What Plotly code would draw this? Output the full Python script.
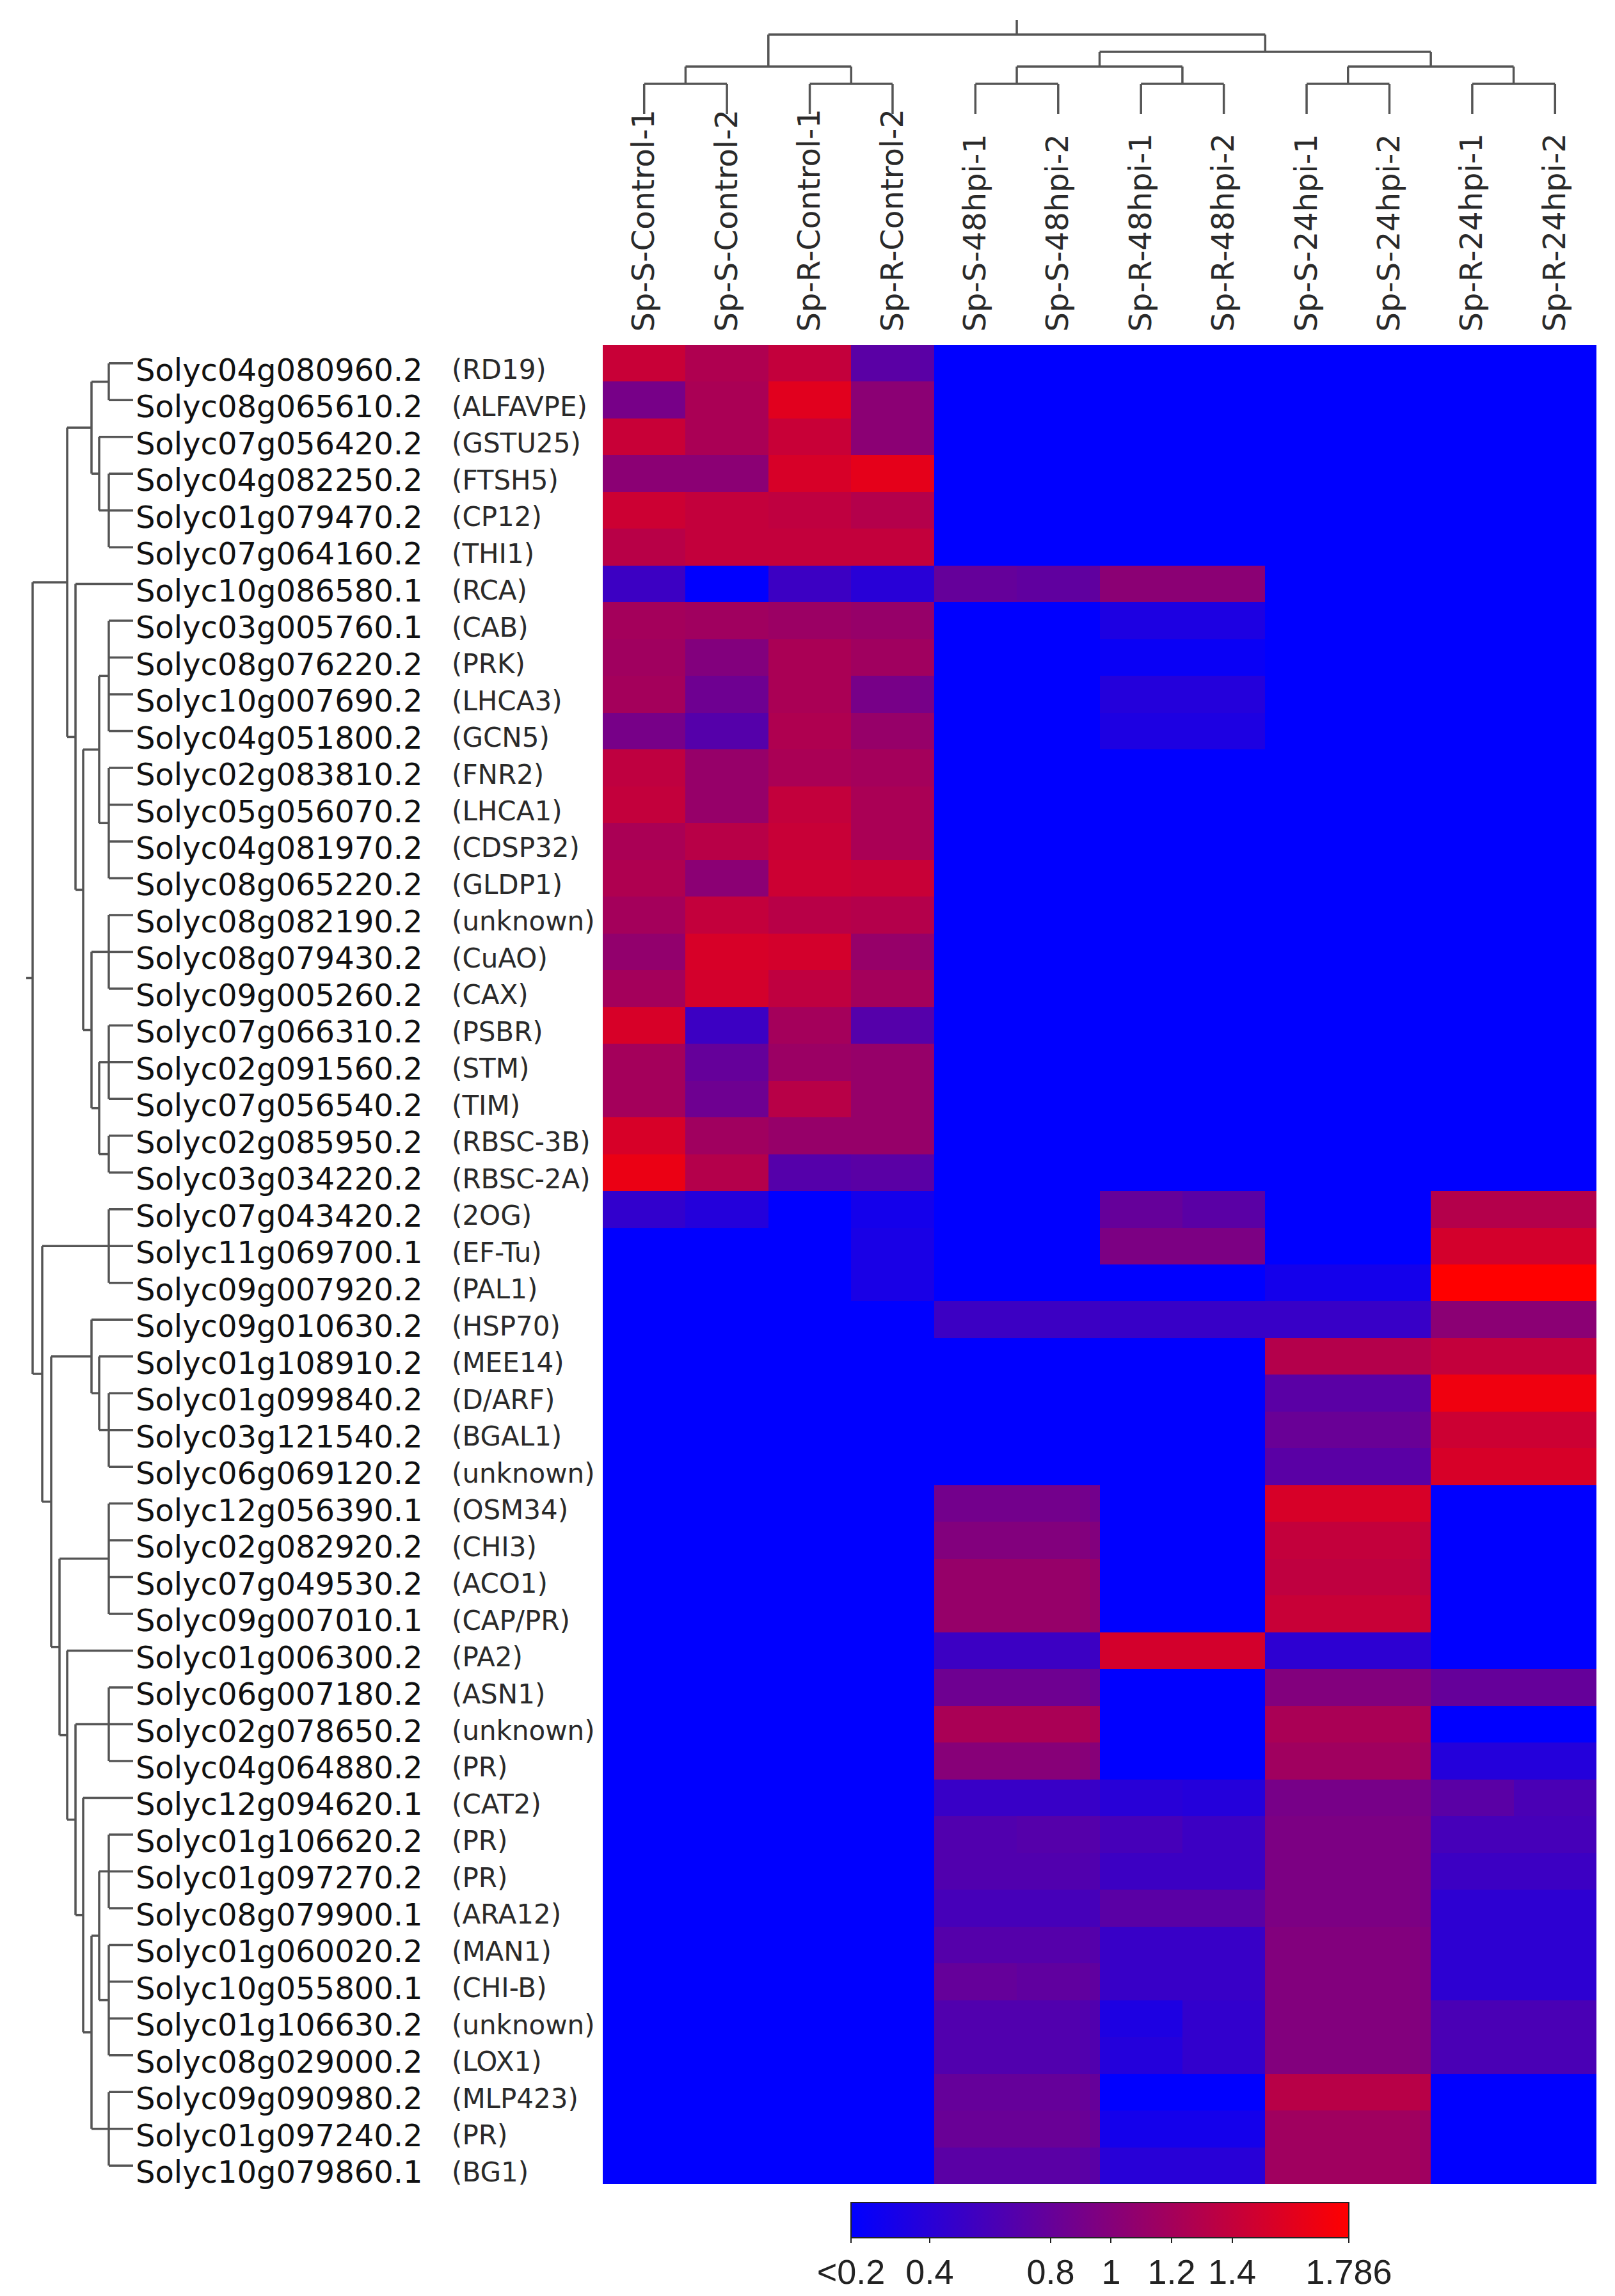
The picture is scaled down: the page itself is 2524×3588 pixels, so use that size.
import plotly.graph_objects as go

# samples (columns) and genes (rows), top to bottom as in the heatmap
samples = ["Sp-S-Control-1", "Sp-S-Control-2", "Sp-R-Control-1", "Sp-R-Control-2",
           "Sp-S-48hpi-1", "Sp-S-48hpi-2", "Sp-R-48hpi-1", "Sp-R-48hpi-2",
           "Sp-S-24hpi-1", "Sp-S-24hpi-2", "Sp-R-24hpi-1", "Sp-R-24hpi-2"]

gene_ids = ["Solyc04g080960.2", "Solyc08g065610.2", "Solyc07g056420.2", "Solyc04g082250.2",
            "Solyc01g079470.2", "Solyc07g064160.2", "Solyc10g086580.1", "Solyc03g005760.1",
            "Solyc08g076220.2", "Solyc10g007690.2", "Solyc04g051800.2", "Solyc02g083810.2",
            "Solyc05g056070.2", "Solyc04g081970.2", "Solyc08g065220.2", "Solyc08g082190.2",
            "Solyc08g079430.2", "Solyc09g005260.2", "Solyc07g066310.2", "Solyc02g091560.2",
            "Solyc07g056540.2", "Solyc02g085950.2", "Solyc03g034220.2", "Solyc07g043420.2",
            "Solyc11g069700.1", "Solyc09g007920.2", "Solyc09g010630.2", "Solyc01g108910.2",
            "Solyc01g099840.2", "Solyc03g121540.2", "Solyc06g069120.2", "Solyc12g056390.1",
            "Solyc02g082920.2", "Solyc07g049530.2", "Solyc09g007010.1", "Solyc01g006300.2",
            "Solyc06g007180.2", "Solyc02g078650.2", "Solyc04g064880.2", "Solyc12g094620.1",
            "Solyc01g106620.2", "Solyc01g097270.2", "Solyc08g079900.1", "Solyc01g060020.2",
            "Solyc10g055800.1", "Solyc01g106630.2", "Solyc08g029000.2", "Solyc09g090980.2",
            "Solyc01g097240.2", "Solyc10g079860.1"]

gene_names = ["(RD19)", "(ALFAVPE)", "(GSTU25)", "(FTSH5)", "(CP12)", "(THI1)", "(RCA)", "(CAB)",
              "(PRK)", "(LHCA3)", "(GCN5)", "(FNR2)", "(LHCA1)", "(CDSP32)", "(GLDP1)", "(unknown)",
              "(CuAO)", "(CAX)", "(PSBR)", "(STM)", "(TIM)", "(RBSC-3B)", "(RBSC-2A)", "(2OG)",
              "(EF-Tu)", "(PAL1)", "(HSP70)", "(MEE14)", "(D/ARF)", "(BGAL1)", "(unknown)", "(OSM34)",
              "(CHI3)", "(ACO1)", "(CAP/PR)", "(PA2)", "(ASN1)", "(unknown)", "(PR)", "(CAT2)",
              "(PR)", "(PR)", "(ARA12)", "(MAN1)", "(CHI-B)", "(unknown)", "(LOX1)", "(MLP423)",
              "(PR)", "(BG1)"]

# relative expression, one row per gene, one value per sample
expr = [
    [1.43, 1.27, 1.40, 0.72, 0.1, 0.1, 0.1, 0.1, 0.1, 0.1, 0.1, 0.1],
    [0.91, 1.24, 1.59, 1.04, 0.1, 0.1, 0.1, 0.1, 0.1, 0.1, 0.1, 0.1],
    [1.43, 1.24, 1.43, 1.04, 0.1, 0.1, 0.1, 0.1, 0.1, 0.1, 0.1, 0.1],
    [1.04, 1.04, 1.53, 1.62, 0.1, 0.1, 0.1, 0.1, 0.1, 0.1, 0.1, 0.1],
    [1.46, 1.40, 1.37, 1.30, 0.1, 0.1, 0.1, 0.1, 0.1, 0.1, 0.1, 0.1],
    [1.33, 1.40, 1.40, 1.40, 0.1, 0.1, 0.1, 0.1, 0.1, 0.1, 0.1, 0.1],
    [0.53, 0.10, 0.53, 0.40, 0.79, 0.76, 1.04, 1.04, 0.1, 0.1, 0.1, 0.1],
    [1.20, 1.17, 1.14, 1.11, 0.1, 0.1, 0.33, 0.33, 0.1, 0.1, 0.1, 0.1],
    [1.17, 0.98, 1.24, 1.17, 0.1, 0.1, 0.20, 0.20, 0.1, 0.1, 0.1, 0.1],
    [1.20, 0.85, 1.24, 0.91, 0.1, 0.1, 0.37, 0.37, 0.1, 0.1, 0.1, 0.1],
    [0.91, 0.69, 1.27, 1.11, 0.1, 0.1, 0.33, 0.33, 0.1, 0.1, 0.1, 0.1],
    [1.37, 1.11, 1.24, 1.20, 0.1, 0.1, 0.1, 0.1, 0.1, 0.1, 0.1, 0.1],
    [1.40, 1.11, 1.40, 1.24, 0.1, 0.1, 0.1, 0.1, 0.1, 0.1, 0.1, 0.1],
    [1.24, 1.33, 1.43, 1.24, 0.1, 0.1, 0.1, 0.1, 0.1, 0.1, 0.1, 0.1],
    [1.27, 1.04, 1.46, 1.43, 0.1, 0.1, 0.1, 0.1, 0.1, 0.1, 0.1, 0.1],
    [1.20, 1.40, 1.33, 1.30, 0.1, 0.1, 0.1, 0.1, 0.1, 0.1, 0.1, 0.1],
    [1.08, 1.53, 1.50, 1.11, 0.1, 0.1, 0.1, 0.1, 0.1, 0.1, 0.1, 0.1],
    [1.20, 1.50, 1.37, 1.20, 0.1, 0.1, 0.1, 0.1, 0.1, 0.1, 0.1, 0.1],
    [1.53, 0.53, 1.20, 0.69, 0.1, 0.1, 0.1, 0.1, 0.1, 0.1, 0.1, 0.1],
    [1.20, 0.79, 1.14, 1.11, 0.1, 0.1, 0.1, 0.1, 0.1, 0.1, 0.1, 0.1],
    [1.20, 0.85, 1.33, 1.11, 0.1, 0.1, 0.1, 0.1, 0.1, 0.1, 0.1, 0.1],
    [1.53, 1.17, 1.11, 1.11, 0.1, 0.1, 0.1, 0.1, 0.1, 0.1, 0.1, 0.1],
    [1.66, 1.30, 0.69, 0.72, 0.1, 0.1, 0.1, 0.1, 0.1, 0.1, 0.1, 0.1],
    [0.46, 0.37, 0.10, 0.27, 0.1, 0.1, 0.79, 0.72, 0.1, 0.1, 1.30, 1.30],
    [0.10, 0.10, 0.10, 0.30, 0.1, 0.1, 0.94, 0.94, 0.1, 0.1, 1.50, 1.50],
    [0.10, 0.10, 0.10, 0.30, 0.1, 0.1, 0.10, 0.10, 0.27, 0.27, 1.786, 1.786],
    [0.1, 0.1, 0.1, 0.1, 0.53, 0.53, 0.50, 0.50, 0.50, 0.50, 1.04, 1.04],
    [0.1, 0.1, 0.1, 0.1, 0.1, 0.1, 0.1, 0.1, 1.30, 1.30, 1.40, 1.40],
    [0.1, 0.1, 0.1, 0.1, 0.1, 0.1, 0.1, 0.1, 0.72, 0.72, 1.69, 1.69],
    [0.1, 0.1, 0.1, 0.1, 0.1, 0.1, 0.1, 0.1, 0.82, 0.82, 1.46, 1.46],
    [0.1, 0.1, 0.1, 0.1, 0.1, 0.1, 0.1, 0.1, 0.72, 0.72, 1.53, 1.53],
    [0.1, 0.1, 0.1, 0.1, 0.88, 0.88, 0.1, 0.1, 1.53, 1.53, 0.1, 0.1],
    [0.1, 0.1, 0.1, 0.1, 0.98, 0.98, 0.1, 0.1, 1.40, 1.40, 0.1, 0.1],
    [0.1, 0.1, 0.1, 0.1, 1.11, 1.11, 0.1, 0.1, 1.37, 1.37, 0.1, 0.1],
    [0.1, 0.1, 0.1, 0.1, 1.11, 1.11, 0.1, 0.1, 1.43, 1.43, 0.1, 0.1],
    [0.1, 0.1, 0.1, 0.1, 0.53, 0.53, 1.50, 1.50, 0.43, 0.43, 0.1, 0.1],
    [0.1, 0.1, 0.1, 0.1, 0.85, 0.85, 0.1, 0.1, 0.98, 0.98, 0.79, 0.79],
    [0.1, 0.1, 0.1, 0.1, 1.24, 1.24, 0.1, 0.1, 1.24, 1.24, 0.1, 0.1],
    [0.1, 0.1, 0.1, 0.1, 1.01, 1.01, 0.1, 0.1, 1.17, 1.17, 0.37, 0.37],
    [0.1, 0.1, 0.1, 0.1, 0.50, 0.50, 0.40, 0.37, 0.91, 0.91, 0.72, 0.62],
    [0.1, 0.1, 0.1, 0.1, 0.66, 0.69, 0.59, 0.53, 0.94, 0.94, 0.59, 0.59],
    [0.1, 0.1, 0.1, 0.1, 0.66, 0.66, 0.53, 0.53, 0.94, 0.94, 0.53, 0.53],
    [0.1, 0.1, 0.1, 0.1, 0.59, 0.59, 0.72, 0.72, 0.94, 0.94, 0.43, 0.43],
    [0.1, 0.1, 0.1, 0.1, 0.69, 0.69, 0.50, 0.50, 0.98, 0.98, 0.43, 0.43],
    [0.1, 0.1, 0.1, 0.1, 0.79, 0.76, 0.50, 0.50, 0.98, 0.98, 0.43, 0.43],
    [0.1, 0.1, 0.1, 0.1, 0.66, 0.66, 0.33, 0.46, 0.98, 0.98, 0.62, 0.62],
    [0.1, 0.1, 0.1, 0.1, 0.66, 0.66, 0.37, 0.46, 0.98, 0.98, 0.62, 0.62],
    [0.1, 0.1, 0.1, 0.1, 0.79, 0.79, 0.1, 0.1, 1.33, 1.33, 0.1, 0.1],
    [0.1, 0.1, 0.1, 0.1, 0.82, 0.82, 0.27, 0.27, 1.17, 1.17, 0.1, 0.1],
    [0.1, 0.1, 0.1, 0.1, 0.72, 0.72, 0.40, 0.40, 1.17, 1.17, 0.1, 0.1],
]

# colour scale ticks
cbar_vals = [0.14, 0.4, 0.8, 1.0, 1.2, 1.4, 1.786]
cbar_text = ["<0.2", "0.4", "0.8", "1", "1.2", "1.4", "1.786"]

# clustering: (children, height); leaves are 0..n-1, merge i gets id n+i
row_merges = [
    ([0, 1], 38), ([3, 4, 5], 38), ([2, 51], 53), ([50, 52], 65),
    ([7, 8, 9, 10], 38), ([11, 12, 13, 14], 38), ([54, 55], 53),
    ([15, 16, 17], 38), ([18, 19, 20], 38), ([21, 22], 38), ([58, 59], 53),
    ([57, 60], 65), ([56, 61], 78), ([6, 62], 90), ([53, 63], 103),
    ([23, 24, 25], 38), ([28, 29, 30], 38), ([27, 66], 53), ([26, 67], 65),
    ([31, 32, 33, 34], 38), ([36, 37, 38], 38), ([40, 41, 42], 38),
    ([43, 44, 45, 46], 38), ([71, 72], 53), ([47, 48, 49], 38), ([73, 74], 65),
    ([39, 75], 78), ([70, 76], 90), ([35, 77], 103), ([69, 78], 115),
    ([68, 79], 128), ([65, 80], 142), ([64, 81], 157),
]
row_root_stem = 167

col_merges = [
    ([0, 1], 47), ([2, 3], 47), ([4, 5], 47), ([6, 7], 47), ([8, 9], 47), ([10, 11], 47),
    ([12, 13], 74), ([14, 15], 74), ([16, 17], 74), ([19, 20], 97), ([18, 21], 124),
]
col_root_stem = 147


def dendro(merges, n, stem):
    pos = list(range(n))
    hgt = [0] * n
    p, h = [], []
    for children, height in merges:
        cp = [pos[c] for c in children]
        for c in children:
            p += [pos[c], pos[c], None]
            h += [hgt[c], height, None]
        p += [min(cp), max(cp), None]
        h += [height, height, None]
        pos.append((min(cp) + max(cp)) / 2)
        hgt.append(height)
    p += [pos[-1], pos[-1], None]
    h += [hgt[-1], stem, None]
    return p, h


W, H = 2524, 3588
fx = lambda px: px / W
fy = lambda py: 1 - py / H

n_rows, n_cols = len(gene_ids), len(samples)
line = dict(color="#555555", width=3.5)

fig = go.Figure()

fig.add_trace(go.Heatmap(
    z=expr, x=list(range(n_cols)), y=list(range(n_rows)),
    colorscale=[[0, "#0000ff"], [1, "#ff0000"]], zmin=0.14, zmax=1.786,
    colorbar=dict(orientation="h", x=fx(1711), xanchor="center", y=fy(3434), yanchor="top",
                  len=778 / W, lenmode="fraction", thickness=55, xpad=0, ypad=0,
                  outlinewidth=2, outlinecolor="#222",
                  tickvals=cbar_vals, ticktext=cbar_text, ticks="outside", ticklen=7,
                  tickwidth=2, tickcolor="#222",
                  tickfont=dict(family="Liberation Sans", size=54, color="#222")),
))

rp, rh = dendro(row_merges, n_rows, row_root_stem)
fig.add_trace(go.Scatter(x=rh, y=rp, xaxis="x2", yaxis="y", mode="lines", line=line,
                         hoverinfo="skip", showlegend=False))

cp, ch = dendro(col_merges, n_cols, col_root_stem)
fig.add_trace(go.Scatter(x=cp, y=ch, xaxis="x", yaxis="y2", mode="lines", line=line,
                         hoverinfo="skip", showlegend=False))

annotations = []
for i in range(n_rows):
    annotations.append(dict(x=fx(202), xref="paper", y=i, yref="y", text=gene_ids[i],
                            xanchor="left", yanchor="middle", yshift=-10, showarrow=False,
                            font=dict(family="DejaVu Sans", size=48, color="#111")))
    annotations.append(dict(x=fx(696), xref="paper", y=i, yref="y", text=gene_names[i],
                            xanchor="left", yanchor="middle", yshift=-10, showarrow=False,
                            font=dict(family="DejaVu Sans", size=42, color="#2a2a2a")))

fig.update_layout(
    width=W, height=H,
    margin=dict(l=0, r=0, t=0, b=0),
    paper_bgcolor="white", plot_bgcolor="white",
    font=dict(family="DejaVu Sans", color="#333"),
    showlegend=False,
    xaxis=dict(domain=[fx(934), fx(2487)], range=[-0.5, n_cols - 0.5], anchor="y",
               side="top", tickvals=list(range(n_cols)), ticktext=samples, tickangle=-90,
               ticks="outside", ticklen=10, tickcolor="rgba(0,0,0,0)",
               tickfont=dict(family="DejaVu Sans", size=48, color="#2a2a2a"),
               showgrid=False, zeroline=False, showline=False, automargin=False),
    yaxis=dict(domain=[fy(3405), fy(531)], range=[n_rows - 0.5, -0.5], anchor="x",
               showticklabels=False, showgrid=False, zeroline=False, showline=False,
               ticks="", automargin=False),
    xaxis2=dict(domain=[fx(33), fx(200)], range=[row_root_stem, 0], anchor="y",
                visible=False),
    yaxis2=dict(domain=[fy(170), fy(23)], range=[0, col_root_stem], anchor="x",
                visible=False),
    annotations=annotations,
)

fig.write_html("out.html")
